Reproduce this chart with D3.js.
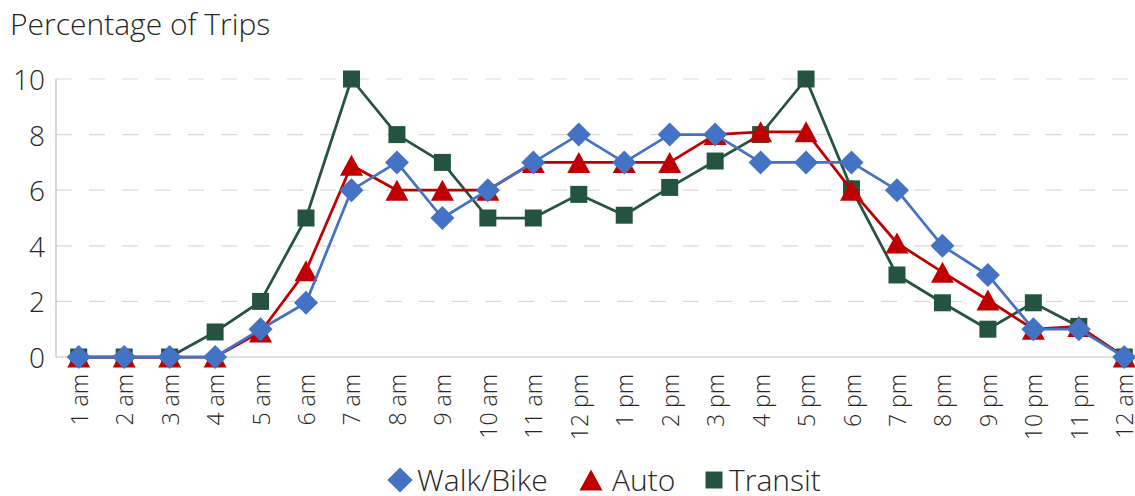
<!DOCTYPE html>
<html>
<head>
<meta charset="utf-8">
<script src="https://cdn.jsdelivr.net/npm/d3@7"></script>
<style>
  html, body { margin: 0; padding: 0; background: #fff; }
  svg text { font-family: "Open Sans", "Noto Sans", sans-serif; font-weight: 300; fill: #262626; }
</style>
</head>
<body>
<svg id="chart"></svg>
<script>
// 时段
const hours = ["1 am", "2 am", "3 am", "4 am", "5 am", "6 am", "7 am", "8 am", "9 am", "10 am", "11 am", "12 pm",
  "1 pm", "2 pm", "3 pm", "4 pm", "5 pm", "6 pm", "7 pm", "8 pm", "9 pm", "10 pm", "11 pm", "12 am"];

// 各出行方式比例 (%)
const walkBike = [0, 0, 0, 0, 1, 1.95, 6, 7, 5, 6, 7, 8, 7, 8, 8, 7, 7, 7, 6, 4, 2.95, 1, 1, 0];
const auto = [0, 0, 0, 0, 0.9, 3.1, 6.9, 6, 6, 6, 7, 7, 7, 7, 8, 8.1, 8.1, 6, 4.1, 3.05, 2.05, 1, 1.1, 0];
const transit = [0, 0, 0, 0.9, 2, 5, 10, 8, 7, 5, 5, 5.85, 5.1, 6.1, 7.05, 8, 10, 6.05, 2.95, 1.95, 1, 1.95, 1.1, 0];

const yTicks = [0, 2, 4, 6, 8, 10];

const series = [
  { name: "Transit", values: transit, color: "#24543f", shape: "square" },
  { name: "Auto", values: auto, color: "#c00000", shape: "triangle" },
  { name: "Walk/Bike", values: walkBike, color: "#4472c4", shape: "diamond" }
];
const legendOrder = ["Walk/Bike", "Auto", "Transit"];

const width = 1135, height = 496;
const plot = { left: 56, right: 1147, top: 79, bottom: 357 };

const svg = d3.select("#chart").attr("width", width).attr("height", height);

const x = d3.scalePoint().domain(hours).range([plot.left, plot.right]).padding(0.5);
const y = d3.scaleLinear().domain([0, 10]).range([plot.bottom, plot.top]);

// 标记形状
function marker(shape, scale) {
  const k = scale || 1;
  if (shape === "square") return d3.symbol(d3.symbolSquare, 17 * 17 * k * k)();
  if (shape === "diamond") return d3.symbol(d3.symbolSquare, 17 * 17 * k * k)();
  const w = 23 * k, h = 21 * k;
  return `M0,${-h / 2}L${w / 2},${h / 2}L${-w / 2},${h / 2}Z`;
}
function markerRotate(shape) { return shape === "diamond" ? " rotate(45)" : ""; }

// 标题
svg.append("text").attr("x", 10).attr("y", 35).style("font-size", "30px").text("Percentage of Trips");

// 网格线
svg.append("g").selectAll("line")
  .data(yTicks.filter(d => d > 0))
  .enter().append("line")
  .attr("x1", plot.left).attr("x2", width)
  .attr("y1", d => y(d)).attr("y2", d => y(d))
  .attr("stroke", "#d9d9d9").attr("stroke-width", 1.2)
  .attr("stroke-dasharray", "16,17");

// 坐标轴线
svg.append("line").attr("x1", plot.left).attr("x2", plot.left)
  .attr("y1", plot.top).attr("y2", plot.bottom)
  .attr("stroke", "#bfbfbf").attr("stroke-width", 1.2);
svg.append("line").attr("x1", plot.left).attr("x2", width)
  .attr("y1", plot.bottom).attr("y2", plot.bottom)
  .attr("stroke", "#bfbfbf").attr("stroke-width", 1.2);

// Y 轴刻度
svg.append("g").selectAll("text")
  .data(yTicks)
  .enter().append("text")
  .attr("x", 45).attr("y", d => y(d))
  .attr("text-anchor", "end").attr("dominant-baseline", "central")
  .style("font-size", "28px")
  .text(d => d);

// X 轴刻度 (竖排)
svg.append("g").selectAll("text")
  .data(hours)
  .enter().append("text")
  .attr("transform", d => `translate(${x(d)},374) rotate(-90)`)
  .attr("text-anchor", "end").attr("dominant-baseline", "central")
  .style("font-size", "23px")
  .text(d => d);

// 折线与标记
const line = d3.line().x((d, i) => x(hours[i])).y(d => y(d));
series.forEach(s => {
  const g = svg.append("g");
  g.append("path").datum(s.values)
    .attr("d", line).attr("fill", "none")
    .attr("stroke", s.color).attr("stroke-width", 2.75)
    .attr("stroke-linejoin", "round");
  g.selectAll("path.mk")
    .data(s.values)
    .enter().append("path").attr("class", "mk")
    .attr("d", marker(s.shape))
    .attr("transform", (d, i) => `translate(${x(hours[i])},${y(d)})` + markerRotate(s.shape))
    .attr("fill", s.color);
});

// 图例
const legendPos = { "Walk/Bike": [400, 417], "Auto": [591, 612], "Transit": [714, 729] };
const legend = svg.append("g");
legendOrder.forEach(name => {
  const s = series.find(d => d.name === name);
  const [mx, tx] = legendPos[name];
  legend.append("path")
    .attr("d", marker(s.shape, s.shape === "diamond" ? 1.05 : 1))
    .attr("transform", `translate(${mx},480)` + markerRotate(s.shape))
    .attr("fill", s.color);
  legend.append("text").attr("x", tx).attr("y", 491)
    .style("font-size", "30px").text(name);
});
</script>
</body>
</html>
